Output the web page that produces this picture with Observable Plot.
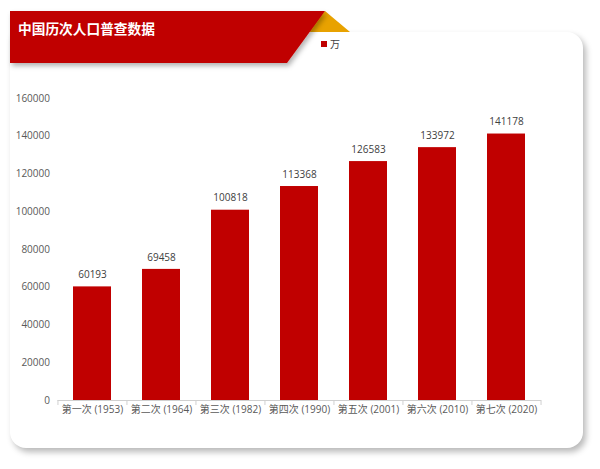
<!DOCTYPE html>
<html>
<head>
<meta charset="utf-8">
<script src="https://cdn.jsdelivr.net/npm/d3@7"></script>
<script src="https://cdn.jsdelivr.net/npm/@observablehq/plot@0.6"></script>
<style>
  html, body { margin: 0; padding: 0; background: #ffffff; width: 600px; height: 469px; overflow: hidden; font-family: "Noto Sans CJK SC", "Noto Sans", sans-serif; }
  #card { position: absolute; left: 10px; top: 32px; width: 573px; height: 416px; background: #fff; border-radius: 4px 16px 16px 16px; box-shadow: 3px 4px 6px rgba(0,0,0,0.28); }
  #deco { position: absolute; left: 0; top: 0; }
  #title { position: absolute; left: 18px; top: 18px; color: #fff; font-weight: bold; font-size: 13.7px; }
  #legend { position: absolute; left: 321px; top: 36px; font-size: 10px; color: #404040; display: flex; align-items: center; }
  #legend span.sw { display: inline-block; width: 6px; height: 6px; background: #c00000; margin-right: 3px; }
  #chart { position: absolute; left: 0; top: 0; }
  #chart svg text { white-space: pre; }
</style>
</head>
<body>
<div id="card"></div>
<svg id="deco" width="600" height="80">
  <defs>
    <filter id="sh" x="-10%" y="-10%" width="130%" height="160%">
      <feDropShadow dx="2" dy="3" stdDeviation="2.5" flood-color="#000" flood-opacity="0.3"/>
    </filter>
  </defs>
  <polygon points="325,11 350,32 306,32" fill="#e8a200"/>
  <polygon points="10,11 325,11 287,63 10,63" fill="#c00000" filter="url(#sh)"/>
</svg>
<div id="title">中国历次人口普查数据</div>
<div id="legend"><span class="sw"></span>万</div>
<div id="chart"></div>
<script>
const categories = ["第一次 (1953)", "第二次 (1964)", "第三次 (1982)", "第四次 (1990)", "第五次 (2001)", "第六次 (2010)", "第七次 (2020)"];
const population = [60193, 69458, 100818, 113368, 126583, 133972, 141178];
const yTicks = [0, 20000, 40000, 60000, 80000, 100000, 120000, 140000, 160000];

const data = categories.map((c, i) => ({category: c, value: population[i]}));

const W = 600, H = 469, mL = 57.5, mR = 59, mT = 98, mB = 69;
const step = (W - mL - mR) / categories.length;
const tickLen = 160000 / (H - mT - mB) * 5;

const chart = Plot.plot({
  width: W,
  height: H,
  marginLeft: mL,
  marginRight: mR,
  marginTop: mT,
  marginBottom: mB,
  style: {background: "transparent", fontFamily: "'Open Sans', 'Noto Sans CJK SC', sans-serif", fontSize: "10px", color: "#595959"},
  x: {domain: categories, paddingInner: 0.45, paddingOuter: 0.225, label: null},
  y: {domain: [0, 160000], label: null},
  marks: [
    Plot.barY(data, {x: "category", y: "value", fill: "#c00000"}),
    Plot.ruleY([0], {stroke: "#d0d0d0"}),
    Plot.ruleX(categories, {x: d => d, y1: 0, y2: -tickLen, dx: -step / 2, stroke: "#d0d0d0", clip: false}),
    Plot.ruleX([categories[categories.length - 1]], {x: d => d, y1: 0, y2: -tickLen, dx: step / 2, stroke: "#d0d0d0", clip: false}),
    Plot.text(data, {x: "category", y: "value", text: d => String(d.value), dy: -12, fill: "#404040", fontSize: 10}),
    Plot.axisY({ticks: yTicks, tickSize: 0, tickPadding: 8, tickFormat: d => String(d), fill: "#595959", fontSize: 10}),
    Plot.axisX({tickSize: 0, tickPadding: 5, fill: "#595959", fontSize: 10})
  ]
});
document.getElementById("chart").appendChild(chart);
</script>
</body>
</html>
